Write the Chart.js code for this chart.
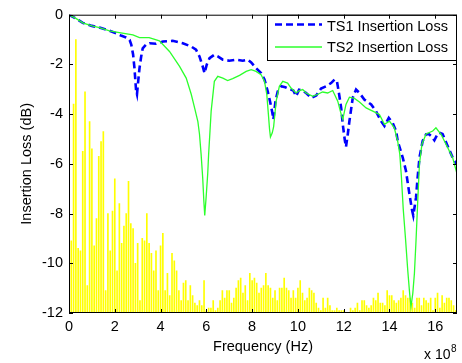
<!DOCTYPE html>
<html><head><meta charset="utf-8">
<script src="https://cdn.jsdelivr.net/npm/chart.js@4.4.0/dist/chart.umd.min.js"></script>
<style>html,body{margin:0;padding:0;background:#fff;overflow:hidden;}</style>
</head><body>
<canvas id="c" width="462" height="363"></canvas>
<script>
// ---- data (frequency in units of 1e8 Hz, loss in dB) ----
const seriesNames = ['TS1 Insertion Loss', 'TS2 Insertion Loss'];
const ts1Freq = [0,0.3,0.6,1.0,1.33,1.7,2.06,2.3,2.5,2.65,2.72,2.8,2.86,2.93,2.97,3.02,3.08,3.15,3.22,3.37,3.52,3.8,4.1,4.53,4.97,5.34,5.55,5.7,5.84,5.92,6.02,6.14,6.35,6.5,6.72,7.0,7.3,7.59,7.81,7.96,8.17,8.39,8.54,8.68,8.78,8.87,8.93,9.02,9.12,9.27,9.45,9.6,9.8,9.92,10.05,10.2,10.36,10.58,10.8,11.01,11.23,11.45,11.6,11.7,11.78,11.89,11.96,12.05,12.1,12.18,12.25,12.4,12.54,12.69,12.9,13.2,13.41,13.63,13.78,13.97,14.14,14.29,14.36,14.58,14.72,14.87,14.99,15.04,15.16,15.23,15.31,15.45,15.6,15.72,15.82,15.96,16.1,16.18,16.32,16.54,16.76,16.93];
const ts1Loss = [0,-0.15,-0.33,-0.45,-0.52,-0.62,-0.75,-0.85,-0.92,-1.02,-1.2,-1.6,-2.15,-3.05,-3.2,-2.7,-2.15,-1.7,-1.35,-1.2,-1.15,-1.17,-1.08,-1.05,-1.15,-1.28,-1.41,-1.68,-2.08,-2.35,-2.0,-1.75,-1.61,-1.68,-1.81,-1.85,-1.81,-1.85,-1.81,-1.92,-2.15,-2.35,-2.61,-3.08,-3.48,-3.88,-4.21,-3.48,-3.08,-2.88,-2.92,-2.98,-3.05,-3.28,-3.02,-3.05,-3.15,-3.35,-3.25,-2.97,-2.88,-2.75,-2.61,-2.65,-3.08,-3.75,-4.41,-5.05,-5.32,-4.8,-4.28,-3.32,-3.01,-3.15,-3.41,-3.61,-3.88,-4.28,-4.48,-4.15,-4.35,-4.68,-5.08,-5.75,-6.28,-7.21,-7.88,-8.08,-7.35,-6.55,-5.75,-5.08,-4.81,-4.8,-4.88,-5.05,-4.8,-4.75,-4.8,-5.28,-5.75,-6.0];
const ts2Freq = [0,0.3,0.6,1.0,1.33,1.77,2.2,2.79,3.08,3.5,3.95,4.39,4.83,5.12,5.34,5.5,5.63,5.7,5.77,5.84,5.89,5.93,5.99,6.06,6.1,6.16,6.21,6.35,6.5,6.72,6.93,7.15,7.45,7.74,7.96,8.17,8.39,8.54,8.64,8.71,8.76,8.8,8.88,8.94,9.05,9.19,9.34,9.55,9.7,9.92,10.07,10.21,10.36,10.65,10.87,11.08,11.3,11.52,11.74,11.89,11.96,12.1,12.25,12.47,12.69,12.98,13.27,13.56,13.78,14.0,14.21,14.36,14.45,14.52,14.6,14.7,14.8,14.88,14.94,15.02,15.09,15.16,15.23,15.31,15.42,15.6,15.89,16.03,16.25,16.47,16.76,16.95];
const ts2Loss = [0,-0.15,-0.33,-0.45,-0.52,-0.65,-0.72,-0.81,-0.92,-0.92,-1.05,-1.48,-2.08,-2.55,-3.2,-3.8,-4.3,-4.8,-5.6,-6.55,-7.48,-8.08,-7.35,-6.4,-5.6,-4.68,-3.88,-2.68,-2.48,-2.55,-2.65,-2.57,-2.44,-2.28,-2.21,-2.28,-2.41,-2.68,-3.2,-4.0,-4.6,-4.92,-4.75,-4.5,-3.48,-2.88,-2.68,-2.75,-2.95,-3.15,-3.05,-3.01,-3.15,-3.28,-3.2,-3.11,-3.15,-3.05,-3.48,-4.01,-4.21,-3.61,-3.32,-3.37,-3.51,-3.75,-3.88,-4.01,-4.41,-4.28,-4.55,-5.1,-5.6,-6.5,-7.8,-9.0,-10.3,-11.2,-11.75,-11.2,-10.4,-9.08,-7.6,-6.0,-5.2,-4.8,-4.68,-4.55,-4.81,-5.21,-5.75,-6.4];
// background spectrum (yellow lines), one per 0.1 step starting at 0
const spectrumStep = 0.1;
const spectrumLevel = [
  0,-9.1,-3.6,-1.0,-9.4,-9.5,-5.5,-3.1,-10.9,-4.3,
  -5.4,-9.3,-8.2,-5.7,-5.1,-4.7,-11.1,-8.0,-9.5,-7.9,
  -6.6,-10.3,-7.6,-9.2,-8.5,-8.0,-6.7,-8.4,-8.6,-10.0,
  -9.2,-11.5,-9.0,-9.1,-8.0,-9.2,-9.6,-10.3,-9.5,-11.1,
  -9.3,-8.8,-11.1,-10.4,-11.3,-9.6,-9.9,-10.3,-11.1,-11.5,
  -10.8,-10.7,-11.5,-10.9,-11.3,-11.6,-11.7,-11.5,-11.7,-10.7,
  -11.9,-11.8,-11.8,-11.5,-11.9,-11.8,-11.5,-11.1,-11.4,-11.1,
  -11.1,-11.6,-11.4,-11.0,-10.7,-10.6,-11.2,-10.9,-11.5,-10.4,
  -10.7,-10.6,-10.8,-11.2,-11.0,-10.9,-10.4,-10.9,-11.0,-11.4,
  -11.1,-11.5,-11.0,-11.0,-10.6,-11.0,-11.1,-11.4,-11.1,-11.4,
  -11.0,-10.7,-11.2,-11.5,-11.4,-11.0,-11.1,-11.2,-11.6,-11.8,
  -11.9,-11.4,-11.8,-11.4,-11.7,-11.9,-11.9,-11.8,-11.9,-11.9,
  -11.9,-12.0,-12.0,-11.8,-11.9,-11.8,-11.6,-11.9,-11.5,-11.5,
  -11.7,-11.8,-11.7,-11.4,-11.5,-11.2,-11.6,-11.6,-11.7,-11.1,
  -11.3,-11.3,-11.5,-11.6,-11.5,-11.4,-11.1,-11.3,-11.4,-11.4,
  -11.6,-11.8,-11.4,-11.4,-11.7,-11.4,-11.5,-11.6,-11.4,-11.9,
  -11.4,-11.2,-11.8,-11.3,-11.6,-11.4,-11.4,-11.5,-11.7,-11.9,
  -11.8
];
const xTicks = [0,2,4,6,8,10,12,14,16];
const yTicks = [-12,-10,-8,-6,-4,-2,0];
const xMin = 0, xMax = 16.95, yMin = -12, yMax = 0;
const xTitle = 'Frequency (Hz)';
const yTitle = 'Insertion Loss (dB)';
const xExponent = '8';

// ---- rendering ----
const FONT = '"Liberation Sans", Arial, Helvetica, sans-serif';
const BLUE = '#0000ff', GREEN = '#2cff2c', YELLOW = '#ffff00';
const toPts = (xs, ys) => xs.map((x, i) => ({x: x, y: ys[i]}));
const spectrumPts = spectrumLevel.map((v, i) => ({x: i * spectrumStep, y: v}));

const framePlugin = {
  id: 'matlabFrame',
  afterDraw(chart) {
    const {ctx, chartArea: a, scales} = chart;
    const x = scales.x, y = scales.y;
    ctx.save();
    // legend box
    const lx0 = 267, ly0 = a.top, lx1 = a.right, ly1 = 60;
    ctx.fillStyle = '#fff';
    ctx.fillRect(lx0, ly0, lx1 - lx0, ly1 - ly0);
    ctx.strokeStyle = '#000'; ctx.lineWidth = 1; ctx.setLineDash([]);
    ctx.strokeRect(lx0 + 0.5, ly0 + 0.5, lx1 - lx0 - 1, ly1 - ly0);
    // legend samples
    ctx.lineWidth = 2.6; ctx.strokeStyle = BLUE; ctx.setLineDash([7, 4]);
    ctx.beginPath(); ctx.moveTo(275, 24.5); ctx.lineTo(322, 24.5); ctx.stroke();
    ctx.setLineDash([]); ctx.lineWidth = 1.3; ctx.strokeStyle = GREEN;
    ctx.beginPath(); ctx.moveTo(275, 47); ctx.lineTo(322, 47); ctx.stroke();
    ctx.fillStyle = '#000'; ctx.font = '14.5px ' + FONT;
    ctx.textAlign = 'left'; ctx.textBaseline = 'middle';
    ctx.fillText(seriesNames[0], 327, 26.5);
    ctx.fillText(seriesNames[1], 327, 48);
    // axes box
    ctx.lineWidth = 1; ctx.strokeStyle = '#000';
    ctx.strokeRect(a.left + 0.5, a.top + 0.5, a.right - a.left - 1, a.bottom - a.top - 1);
    // inward ticks on all four sides
    ctx.beginPath();
    xTicks.forEach(v => {
      const px = Math.round(x.getPixelForValue(v)) + 0.5;
      ctx.moveTo(px, a.bottom); ctx.lineTo(px, a.bottom - 4);
      ctx.moveTo(px, a.top); ctx.lineTo(px, a.top + 4);
    });
    yTicks.forEach(v => {
      const py = Math.round(y.getPixelForValue(v)) + 0.5;
      ctx.moveTo(a.left, py); ctx.lineTo(a.left + 4, py);
      ctx.moveTo(a.right, py); ctx.lineTo(a.right - 4, py);
    });
    ctx.stroke();
    // exponent label
    ctx.textBaseline = 'alphabetic';
    ctx.font = '14px ' + FONT;
    ctx.fillText('x 10', 424, 359);
    ctx.font = '10px ' + FONT;
    ctx.fillText(xExponent, 451, 352);
    ctx.restore();
  }
};

new Chart(document.getElementById('c'), {
  type: 'line',
  data: {
    datasets: [
      { label: seriesNames[0], data: toPts(ts1Freq, ts1Loss), borderColor: BLUE, borderWidth: 2.6,
        borderDash: [7, 4], pointRadius: 0, tension: 0, fill: false, order: 1 },
      { label: seriesNames[1], data: toPts(ts2Freq, ts2Loss), borderColor: GREEN, borderWidth: 1.3,
        pointRadius: 0, tension: 0, fill: false, order: 0 },
      { type: 'bar', label: 'spectrum', data: spectrumPts, backgroundColor: YELLOW,
        borderWidth: 0, barThickness: 1, base: yMin, order: 2 }
    ]
  },
  options: {
    responsive: false, animation: false, devicePixelRatio: 1,
    layout: { padding: { left: 0, right: 5, top: 13, bottom: 0 } },
    plugins: { legend: { display: false }, tooltip: { enabled: false } },
    scales: {
      x: {
        type: 'linear', min: xMin, max: xMax, offset: false,
        grid: { display: false, drawTicks: false }, border: { display: false },
        afterBuildTicks: s => { s.ticks = xTicks.map(v => ({value: v})); },
        afterFit: s => { s.height = 50; },
        ticks: { font: { family: FONT, size: 14.5 }, color: '#000', padding: 5, maxRotation: 0, autoSkip: false, includeBounds: false },
        title: { display: true, text: xTitle, color: '#000', font: { family: FONT, size: 14.5 }, padding: { top: 0, bottom: 7 } }
      },
      y: {
        type: 'linear', min: yMin, max: yMax,
        grid: { display: false, drawTicks: false }, border: { display: false },
        afterBuildTicks: s => { s.ticks = yTicks.map(v => ({value: v})); },
        afterFit: s => { s.width = 69; },
        ticks: { font: { family: FONT, size: 14.5 }, color: '#000', padding: 6, autoSkip: false },
        title: { display: true, text: yTitle, color: '#000', font: { family: FONT, size: 14.5 }, padding: { top: 18, bottom: 0 } }
      }
    }
  },
  plugins: [framePlugin]
});
</script>
</body></html>
